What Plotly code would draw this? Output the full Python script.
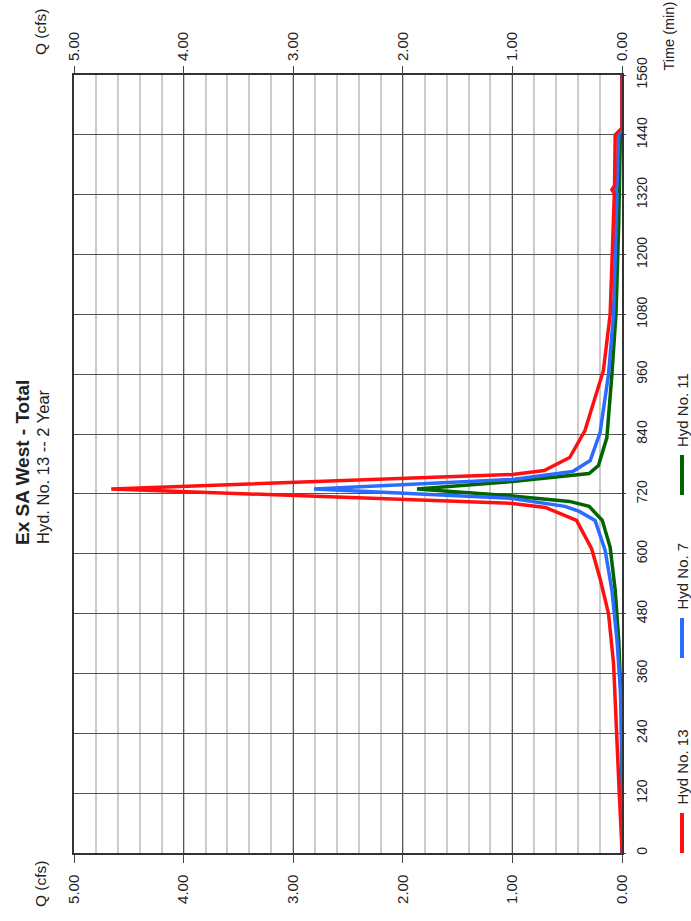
import plotly.graph_objects as go

# ---- data ----
q_ticks = [0, 1, 2, 3, 4, 5]
q_tick_text = ["0.00", "1.00", "2.00", "3.00", "4.00", "5.00"]
t_ticks = [0, 120, 240, 360, 480, 600, 720, 840, 960, 1080, 1200, 1320, 1440, 1560]

hyd13_t = [0, 6, 120, 240, 380, 480, 550, 610, 667, 693, 701, 730, 759, 767, 793, 847, 967, 1080, 1260, 1322, 1330, 1338, 1440, 1454, 1560]
hyd13_q = [0, 0, 0.025, 0.046, 0.077, 0.123, 0.2, 0.277, 0.415, 0.70, 1.0, 4.66, 1.0, 0.71, 0.477, 0.338, 0.17, 0.108, 0.077, 0.07, 0.092, 0.068, 0.062, 0.0, 0.0]

hyd7_t = [0, 200, 327, 427, 527, 607, 667, 685, 695, 711, 730, 749, 765, 787, 843, 960, 1080, 1260, 1322, 1330, 1338, 1440, 1452, 1560]
hyd7_q = [0, 0, 0.015, 0.046, 0.092, 0.154, 0.246, 0.39, 0.52, 1.0, 2.81, 1.0, 0.45, 0.29, 0.2, 0.123, 0.077, 0.052, 0.046, 0.058, 0.045, 0.03, 0.0, 0.0]

hyd11_t = [0, 240, 293, 427, 527, 613, 667, 695, 705, 716, 730, 745, 761, 777, 833, 960, 1080, 1260, 1440, 1450, 1560]
hyd11_q = [0, 0, 0.006, 0.03, 0.062, 0.108, 0.18, 0.3, 0.48, 1.0, 1.87, 1.0, 0.3, 0.215, 0.138, 0.092, 0.055, 0.03, 0.015, 0.0, 0.0]

series = [
    ("Hyd No. 11", hyd11_t, hyd11_q, "#006400"),
    ("Hyd No. 7", hyd7_t, hyd7_q, "#2b6cff"),
    ("Hyd No. 13", hyd13_t, hyd13_q, "#ff1010"),
]

FONT = "Liberation Sans, Arial, sans-serif"
W, H = 691, 921
L, R, T, B = 74, 622, 75, 853

fig = go.Figure()
for name, t, q, col in series:
    fig.add_trace(go.Scatter(x=q, y=t, mode="lines", name=name,
                             line=dict(color=col, width=3.5),
                             showlegend=False, hoverinfo="skip"))
# invisible trace for top axis
fig.add_trace(go.Scatter(x=[0, 5], y=[0, 0], xaxis="x2", mode="lines",
                         line=dict(width=0), showlegend=False, hoverinfo="skip"))

axis_common = dict(range=[5, 0], tickvals=q_ticks, ticktext=q_tick_text,
                   tickangle=-90, tickfont=dict(family=FONT, size=15, color="#222"),
                   ticks="outside", ticklen=8, tickcolor="#444", tickwidth=1)

fig.update_layout(
    width=W, height=H,
    margin=dict(l=L, r=W - R, t=T, b=H - B),
    paper_bgcolor="white", plot_bgcolor="white",
    xaxis=dict(**axis_common, side="bottom", ticklabelstandoff=6,
               showgrid=True, gridcolor="#555555", gridwidth=1,
               minor=dict(dtick=0.2, showgrid=True, gridcolor="#cccccc", gridwidth=1.5),
               showline=True, linecolor="#333", linewidth=1.5, mirror=True,
               zeroline=False),
    xaxis2=dict(**axis_common, side="top", overlaying="x", anchor="y",
                ticklabelstandoff=2,
                showgrid=False, zeroline=False, showline=False),
    yaxis=dict(range=[0, 1560], tickvals=t_ticks, side="right",
               tickangle=-90, tickfont=dict(family=FONT, size=14, color="#222"),
               ticklabelstandoff=4,
               showgrid=True, gridcolor="#555555", gridwidth=1,
               ticks="outside", ticklen=2, tickcolor="#444",
               showline=True, linecolor="#333", linewidth=1.5, mirror=True,
               zeroline=False),
    showlegend=False,
)

def px_x(px):
    return (px - L) / (R - L)

def px_y(py):
    return (B - py) / (B - T)

ann = [
    dict(text="<b>Ex SA West - Total</b>", x=px_x(22), y=px_y(463), size=19),
    dict(text="Hyd. No. 13 -- 2 Year", x=px_x(43), y=px_y(467), size=16.5),
    dict(text="Q (cfs)", x=px_x(40), y=px_y(32), size=15.5),
    dict(text="Q (cfs)", x=px_x(40), y=px_y(884), size=15.5),
]
for a in ann:
    fig.add_annotation(text=a["text"], x=a["x"], y=a["y"], xref="paper", yref="paper",
                       textangle=-90, showarrow=False, xanchor="center", yanchor="middle",
                       font=dict(family=FONT, size=a["size"], color="#222"))
fig.add_annotation(text="Time (min)", x=px_x(668), y=px_y(73), xref="paper", yref="paper",
                   textangle=-90, showarrow=False, xanchor="center", yanchor="bottom",
                   font=dict(family=FONT, size=14.5, color="#222"))

# legend (rotated, drawn manually)
legend_items = [("Hyd No. 13", "#ff1010", 853, 813), ("Hyd No. 7", "#2b6cff", 658, 618),
                ("Hyd No. 11", "#006400", 495, 455)]
for name, col, yb, yt in legend_items:
    fig.add_shape(type="line", xref="paper", yref="paper",
                  x0=px_x(682), x1=px_x(682), y0=px_y(yb), y1=px_y(yt),
                  line=dict(color=col, width=4))
    fig.add_annotation(text=name, x=px_x(682), y=px_y(yt - 6), xref="paper", yref="paper",
                       textangle=-90, showarrow=False, xanchor="center", yanchor="bottom",
                       font=dict(family=FONT, size=15, color="#222"))

fig.write_html("out.html", config={"displayModeBar": False},
               post_script="document.body.style.margin='0';")
